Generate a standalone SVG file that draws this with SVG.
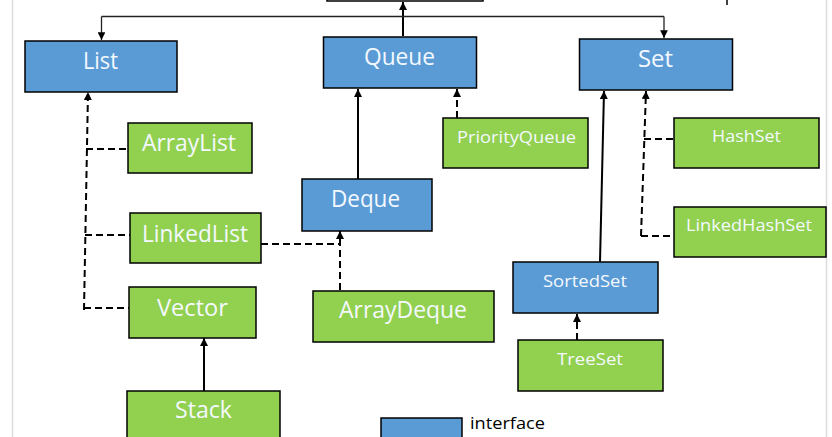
<svg xmlns="http://www.w3.org/2000/svg" width="832" height="437" viewBox="0 0 832 437">
<style>
.iface{fill:#5B9BD5;stroke:#000;stroke-width:1.5}
.cls{fill:#92D050;stroke:#000;stroke-width:1.5}
.big{font-family:"Open Sans","Noto Sans",sans-serif;font-size:24px;fill:#f4f9ff}
.small{font-family:"Open Sans","Noto Sans",sans-serif;font-size:16.5px;fill:#f4f9ff}
.solid{fill:none;stroke:#000;stroke-width:2}
.dash{fill:none;stroke:#000;stroke-width:2;stroke-dasharray:7 4}
.thin{fill:none;stroke:#222;stroke-width:1.3}
.border{stroke:#dcdcdc;stroke-width:1.5}
</style>
<defs>
<marker id="ah" viewBox="0 0 10 10" refX="10" refY="5" markerWidth="4" markerHeight="4" orient="auto" markerUnits="strokeWidth">
<path d="M0,0 L10,5 L0,10 z" fill="#000"/>
</marker>
<marker id="ahs" viewBox="0 0 10 10" refX="10" refY="5" markerWidth="6" markerHeight="6" orient="auto" markerUnits="strokeWidth">
<path d="M0,0 L10,5 L0,10 z" fill="#000"/>
</marker>
</defs>
<rect width="832" height="437" fill="#fff"/>
<line class="border" x1="12.5" y1="0" x2="12.5" y2="437"/>
<line class="border" x1="826.5" y1="0" x2="826.5" y2="437"/>

<g id="connectors">
<line class="solid" x1="403" y1="36" x2="403" y2="2" marker-end="url(#ah)"/>
<line x1="727" y1="0" x2="727" y2="5" stroke="#000" stroke-width="1.5"/>
<polyline class="thin" points="101.5,16.5 664,16.5"/>
<line class="thin" x1="101.5" y1="16.5" x2="101.5" y2="40" marker-end="url(#ahs)"/>
<line class="thin" x1="664" y1="16.5" x2="664" y2="38" marker-end="url(#ahs)"/>
<line class="dash" x1="84" y1="310" x2="88" y2="92" marker-end="url(#ah)"/>
<line class="dash" x1="86" y1="149" x2="128" y2="149"/>
<line class="dash" x1="85" y1="235" x2="130" y2="235"/>
<line class="dash" x1="84" y1="308" x2="129" y2="308"/>
<line class="solid" x1="204" y1="391" x2="204" y2="338" marker-end="url(#ah)"/>
<line class="solid" x1="358" y1="179" x2="358" y2="89" marker-end="url(#ah)"/>
<line class="dash" x1="457" y1="118" x2="457" y2="89" marker-end="url(#ah)"/>
<line class="dash" x1="261" y1="244" x2="340" y2="244"/>
<line class="dash" x1="340" y1="290" x2="340" y2="231" marker-end="url(#ah)"/>
<line class="solid" x1="600" y1="262" x2="604" y2="91" marker-end="url(#ah)"/>
<line class="dash" x1="641" y1="236" x2="646" y2="91" marker-end="url(#ah)"/>
<line class="dash" x1="644" y1="139" x2="674" y2="139"/>
<line class="dash" x1="641" y1="236" x2="674" y2="236"/>
<line class="dash" x1="577" y1="340" x2="577" y2="314" marker-end="url(#ah)"/>
</g>

<g id="top"><rect x="327" y="-40" width="156" height="41" fill="#fff" stroke="#000" stroke-width="1.5"/></g>

<g id="List"><rect class="iface" x="25" y="41" width="152" height="51"/><text class="big" x="83" y="69" textLength="35" lengthAdjust="spacingAndGlyphs">List</text></g>
<g id="Queue"><rect class="iface" x="323.5" y="37" width="153" height="51"/><text class="big" x="364" y="65" textLength="71" lengthAdjust="spacingAndGlyphs">Queue</text></g>
<g id="Set"><rect class="iface" x="579.5" y="39" width="153" height="51"/><text class="big" x="638" y="67" textLength="35" lengthAdjust="spacingAndGlyphs">Set</text></g>

<g id="ArrayList"><rect class="cls" x="128" y="123" width="124" height="50"/><text class="big" x="142" y="151" textLength="94" lengthAdjust="spacingAndGlyphs">ArrayList</text></g>
<g id="LinkedList"><rect class="cls" x="130" y="213" width="131" height="50"/><text class="big" x="142" y="242" textLength="106" lengthAdjust="spacingAndGlyphs">LinkedList</text></g>
<g id="Vector"><rect class="cls" x="129" y="287" width="127" height="51"/><text class="big" x="157" y="316" textLength="71" lengthAdjust="spacingAndGlyphs">Vector</text></g>
<g id="Stack"><rect class="cls" x="127" y="391" width="153" height="60"/><text class="big" x="175" y="418" textLength="57" lengthAdjust="spacingAndGlyphs">Stack</text></g>

<g id="Deque"><rect class="iface" x="302" y="179" width="130" height="52"/><text class="big" x="331" y="207" textLength="69" lengthAdjust="spacingAndGlyphs">Deque</text></g>
<g id="ArrayDeque"><rect class="cls" x="313" y="291" width="181" height="51"/><text class="big" x="339" y="318" textLength="128" lengthAdjust="spacingAndGlyphs">ArrayDeque</text></g>
<g id="PriorityQueue"><rect class="cls" x="443" y="118" width="145" height="50"/><text class="small" x="457" y="143" textLength="119" lengthAdjust="spacingAndGlyphs">PriorityQueue</text></g>

<g id="HashSet"><rect class="cls" x="674" y="118" width="145" height="50"/><text class="small" x="712" y="142" textLength="69" lengthAdjust="spacingAndGlyphs">HashSet</text></g>
<g id="LinkedHashSet"><rect class="cls" x="674" y="207" width="152" height="50"/><text class="small" x="686" y="231" textLength="126" lengthAdjust="spacingAndGlyphs">LinkedHashSet</text></g>
<g id="SortedSet"><rect class="iface" x="513" y="262" width="145" height="51"/><text class="small" x="543" y="287" textLength="84" lengthAdjust="spacingAndGlyphs">SortedSet</text></g>
<g id="TreeSet"><rect class="cls" x="518" y="340" width="145" height="51"/><text class="small" x="557" y="365" textLength="66" lengthAdjust="spacingAndGlyphs">TreeSet</text></g>

<g id="legend"><rect class="iface" x="381" y="418" width="81" height="30"/><text x="470" y="429" font-family="Open Sans, Noto Sans, sans-serif" font-size="16.5" fill="#000" textLength="75" lengthAdjust="spacingAndGlyphs">interface</text></g>
</svg>
